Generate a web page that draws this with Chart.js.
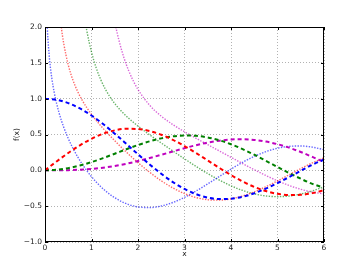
<!DOCTYPE html>
<html>
<head>
<meta charset="utf-8">
<script src="https://cdn.jsdelivr.net/npm/chart.js@4/dist/chart.umd.min.js"></script>
<style>
  html, body { margin: 0; padding: 0; background: #fff; }
  #wrap { width: 360px; height: 270px; }
</style>
</head>
<body>
<div id="wrap"><canvas id="chart" width="360" height="270"></canvas></div>
<script>
// sample positions for the dashed curves
const xs = [0, 0.25, 0.5, 0.75, 1, 1.25, 1.5, 1.75, 2, 2.25, 2.5, 2.75, 3,
            3.25, 3.5, 3.75, 4, 4.25, 4.5, 4.75, 5, 5.25, 5.5, 5.75, 6];
// sample positions for the dotted curves (denser near 0 where they are steep)
const xDot = [0.03, 0.05, 0.1, 0.15, 0.2, 0.25, 0.3, 0.35, 0.4, 0.5, 0.6, 0.7, 0.8, 0.9,
              1.0, 1.1, 1.2, 1.3, 1.4, 1.5, 1.6, 1.7, 1.8, 1.9, 2.0, 2.25, 2.5, 2.75, 3.0,
              3.25, 3.5, 3.75, 4.0, 4.25, 4.5, 4.75, 5.0, 5.25, 5.5, 5.75, 6.0];

// dashed curves
const j0 = [1.0, 0.9844, 0.9385, 0.8642, 0.7652, 0.6459, 0.5118, 0.3690, 0.2239, 0.0827,
            -0.0484, -0.1641, -0.2601, -0.3328, -0.3801, -0.4014, -0.3971, -0.3688, -0.3205,
            -0.2545, -0.1776, -0.0938, -0.0068, 0.0781, 0.1506];
const j1 = [0, 0.1240, 0.2423, 0.3492, 0.4401, 0.5106, 0.5579, 0.5802, 0.5767, 0.5484,
            0.4971, 0.4263, 0.3391, 0.2410, 0.1374, 0.0334, -0.0660, -0.1556, -0.2311,
            -0.2891, -0.3276, -0.3448, -0.3414, -0.3180, -0.2767];
const j2 = [0, 0.0078, 0.0306, 0.0671, 0.1149, 0.1711, 0.2321, 0.2942, 0.3528, 0.4047,
            0.4461, 0.4741, 0.4861, 0.4811, 0.4586, 0.4192, 0.3641, 0.2956, 0.2178,
            0.1328, 0.0466, -0.0376, -0.1173, -0.1887, -0.2429];
const j3 = [0, 0.0003, 0.0026, 0.0085, 0.0196, 0.0369, 0.0610, 0.0919, 0.1289, 0.1711,
            0.2166, 0.2633, 0.3091, 0.3511, 0.3868, 0.4137, 0.4302, 0.4338, 0.4247,
            0.4009, 0.3648, 0.3162, 0.2561, 0.1867, 0.1148];

// dotted curves
const d0 = [2.306, 1.979, 1.5342, 1.2708, 1.0811, 0.9316, 0.8073, 0.7003, 0.6060, 0.4445,
            0.3085, 0.1907, 0.0868, -0.0056, -0.0883, -0.1622, -0.2281, -0.2865, -0.3379,
            -0.3824, -0.4204, -0.4520, -0.4774, -0.4968, -0.5104, -0.5201, -0.4981, -0.4487,
            -0.3769, -0.2883, -0.1890, -0.0853, 0.0169, 0.1119, 0.1947, 0.2611, 0.3085,
            0.3347, 0.3395, 0.3233, 0.2882];
const d1 = [null, null, null, null, 3.3238, 2.706, 2.2931, 2.001, 1.7809, 1.4715,
            1.2604, 1.1032, 0.9781, 0.8731, 0.7812, 0.6981, 0.6211, 0.5485, 0.4791,
            0.4123, 0.3476, 0.2847, 0.2237, 0.1644, 0.1070, -0.0272, -0.1459, -0.2460,
            -0.3247, -0.3798, -0.4102, -0.4158, -0.3979, -0.3581, -0.3001, -0.2288, -0.1479,
            -0.0619, 0.0238, 0.1042, 0.1750];
const d2 = [null, null, null, null, null, null, null, null, null, 5.4415,
            3.8928, 2.9613, 2.3585, 1.9458, 1.6507, 1.4315, 1.2633, 1.1303, 1.0223,
            0.9321, 0.8549, 0.7869, 0.7260, 0.6699, 0.6174, 0.4959, 0.3814, 0.2698,
            0.1604, 0.0546, -0.0454, -0.1365, -0.2159, -0.2804, -0.3281, -0.3574, -0.3677,
            -0.3583, -0.3308, -0.2871, -0.2299];
const d3 = [null, null, null, null, null, null, null, null, null, null,
            null, null, null, null, null, null, 3.5899, 2.9293, 2.4418,
            2.0733, 1.7897, 1.5668, 1.3896, 1.2459, 1.1278, 0.9088, 0.7561, 0.6384,
            0.5386, 0.4470, 0.3583, 0.2702, 0.1820, 0.0942, 0.0085, -0.0722, -0.1463,
            -0.2111, -0.2644, -0.3039, -0.3283];

const colors = ['#0000ff', '#ff0000', '#008000', '#bf00bf'];
const dotColors = ['rgba(0,0,255,0.6)', 'rgba(255,0,0,0.6)', 'rgba(0,128,0,0.6)', 'rgba(191,0,191,0.6)'];

const xTicks = [0, 1, 2, 3, 4, 5, 6];
const yTicks = [-1.0, -0.5, 0.0, 0.5, 1.0, 1.5, 2.0];

const FONT = 'DejaVu Sans';

function pts(xv, yv) {
    return xv.map((x, i) => ({ x: x, y: yv[i] }));
}

const dashed = [j0, j1, j2, j3].map((s, i) => ({
    data: pts(xs, s),
    borderColor: colors[i],
    borderWidth: 2,
    borderDash: [4, 3],
    pointRadius: 0,
    cubicInterpolationMode: 'monotone',
    fill: false
}));

const dotted = [d0, d1, d2, d3].map((s, i) => ({
    data: pts(xDot, s),
    borderColor: dotColors[i],
    borderWidth: 1.4,
    borderDash: [1.4, 1.4],
    pointRadius: 0,
    cubicInterpolationMode: 'monotone',
    fill: false
}));

// frame and inward tick marks, drawn over the curves
const framePlugin = {
    id: 'frame',
    afterDatasetsDraw(chart) {
        const { ctx, chartArea: a, scales } = chart;
        ctx.save();
        ctx.strokeStyle = '#000';
        ctx.lineWidth = 1;
        ctx.setLineDash([]);
        ctx.beginPath();
        xTicks.forEach(v => {
            const px = Math.round(scales.x.getPixelForValue(v)) + 0.5;
            ctx.moveTo(px, a.bottom); ctx.lineTo(px, a.bottom - 3);
            ctx.moveTo(px, a.top); ctx.lineTo(px, a.top + 3);
        });
        yTicks.forEach(v => {
            const py = Math.round(scales.y.getPixelForValue(v)) + 0.5;
            ctx.moveTo(a.left, py); ctx.lineTo(a.left + 3, py);
            ctx.moveTo(a.right, py); ctx.lineTo(a.right - 3, py);
        });
        ctx.stroke();
        ctx.strokeRect(Math.round(a.left) + 0.5, Math.round(a.top) + 0.5,
                       Math.round(a.right - a.left) - 1, Math.round(a.bottom - a.top) - 1);
        ctx.restore();
    }
};

new Chart(document.getElementById('chart'), {
    type: 'line',
    data: { datasets: [...dashed, ...dotted] },
    options: {
        responsive: false,
        animation: false,
        devicePixelRatio: 1,
        layout: { padding: { top: 27, right: 36, left: 0, bottom: 0 } },
        plugins: { legend: { display: false }, tooltip: { enabled: false } },
        scales: {
            x: {
                type: 'linear',
                min: 0, max: 6,
                afterBuildTicks: s => { s.ticks = xTicks.map(v => ({ value: v })); },
                afterFit: s => { s.height = 28; },
                grid: { color: 'rgba(0,0,0,0.3)', lineWidth: 1, drawTicks: false },
                border: { display: false, dash: [1, 2] },
                ticks: {
                    padding: 2, color: '#222', maxRotation: 0,
                    font: { family: FONT, size: 7.5 },
                    callback: v => String(v)
                },
                title: {
                    display: true, text: 'x', color: '#222',
                    font: { family: FONT, size: 7.5 },
                    padding: { top: 11, bottom: 11 }
                }
            },
            y: {
                type: 'linear',
                min: -1, max: 2,
                afterBuildTicks: s => { s.ticks = yTicks.map(v => ({ value: v })); },
                afterFit: s => { s.width = 45; },
                grid: { color: 'rgba(0,0,0,0.3)', lineWidth: 1, drawTicks: false },
                border: { display: false, dash: [1, 2] },
                ticks: {
                    padding: 3, color: '#222',
                    font: { family: FONT, size: 7.5 },
                    callback: v => v.toFixed(1).replace('-', '\u2212')
                },
                title: {
                    display: true, text: 'f(x)', color: '#222',
                    font: { family: FONT, size: 7.5 },
                    padding: { top: 13, bottom: 13 }
                }
            }
        }
    },
    plugins: [framePlugin]
});
</script>
</body>
</html>
